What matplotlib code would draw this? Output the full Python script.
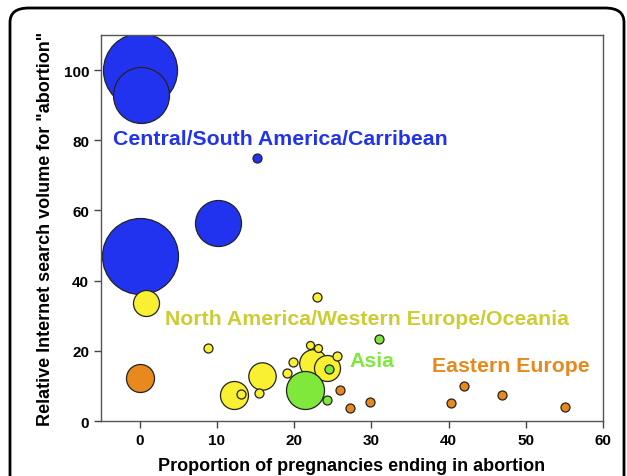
import numpy as np
import matplotlib
matplotlib.use("Agg")
import matplotlib.pyplot as plt
from matplotlib.patches import FancyBboxPatch

plt.rcParams['font.family'] = ['Liberation Sans', 'DejaVu Sans']

# bubble data: x = % pregnancies ending in abortion, y = relative search volume, r = bubble radius
blue_x = [0.0, 0.2, 0.0, 10.1, 15.2]
blue_y = [100, 93, 47, 56.5, 75]
blue_r = [37, 28, 38, 23, 4.5]

yel_x = [0.8, 22.9, 8.8, 12.2, 13.1, 15.8, 15.5, 19.8, 19.1, 22.1, 23.1, 25.5, 22.5, 24.2]
yel_y = [33.5, 35.3, 20.9, 7.4, 7.8, 12.8, 7.9, 16.9, 13.6, 21.7, 20.9, 18.6, 16.5, 15.0]
yel_r = [13, 4.5, 4.5, 14, 4.5, 13.7, 4.5, 4.5, 4.5, 4, 4, 4.5, 13.8, 13]

grn_x = [21.4, 24.5, 24.3, 31.0]
grn_y = [8.7, 14.8, 6.1, 23.3]
grn_r = [19, 4.5, 4.5, 4.5]

org_x = [0.1, 25.9, 27.2, 29.8, 40.3, 42.0, 46.9, 55.1]
org_y = [12.3, 8.8, 3.7, 5.3, 5.1, 10.1, 7.4, 4.0]
org_r = [14, 4.5, 4.5, 4.5, 4.5, 4.5, 4.5, 4.5]

groups = [
    (blue_x, blue_y, blue_r, '#2233f0'),
    (yel_x, yel_y, yel_r, '#f8f030'),
    (grn_x, grn_y, grn_r, '#80e83a'),
    (org_x, org_y, org_r, '#e8891e'),
]

fig = plt.figure(figsize=(6.27, 4.77), dpi=100)
ax = fig.add_axes([0.161, 0.1153, 0.801, 0.8092])

z = 2
for gx, gy, gr, col in groups:
    order = np.argsort(gr)[::-1]
    # keep the first blue pair in its drawn order (second overlaps first)
    for i in order if col != '#2233f0' else range(len(gr)):
        s = (gr[i] * 2 * 0.72) ** 2
        ax.scatter(gx[i], gy[i], s=s, c=col, edgecolors='#222222', linewidths=0.9, zorder=z)
        z += 0.01

ax.set_xlim(-5, 60)
ax.set_ylim(0, 110)
ax.set_xticks([0, 10, 20, 30, 40, 50, 60])
ax.set_yticks([0, 20, 40, 60, 80, 100])
for lab in ax.get_xticklabels() + ax.get_yticklabels():
    lab.set_fontweight('bold')
    lab.set_fontsize(11)
ax.tick_params(direction='out', length=5, width=1, color='#444444')
for sp in ax.spines.values():
    sp.set_color('#555555')
    sp.set_linewidth(1)

ax.set_xlabel('Proportion of pregnancies ending in abortion', fontsize=13, fontweight='bold', labelpad=7)
ax.set_ylabel('Relative Internet search volume for "abortion"', fontsize=13, fontweight='bold', labelpad=7)

ax.text(-3.4, 80.6, 'Central/South America/Carribean', color='#2233f0', fontsize=15.3, fontweight='bold', va='center', zorder=10)
ax.text(3.35, 29.1, 'North America/Western Europe/Oceania', color='#cccc33', fontsize=15.3, fontweight='bold', va='center', zorder=10)
ax.text(27.2, 17.1, 'Asia', color='#80e83a', fontsize=15.3, fontweight='bold', va='center', zorder=10)
ax.text(37.8, 15.7, 'Eastern Europe', color='#e8891e', fontsize=15.3, fontweight='bold', va='center', zorder=10)

frame = FancyBboxPatch((10 / 627, -0.1), 614 / 627, 1.1 - 9 / 477,
                       boxstyle='round,pad=0,rounding_size=0.03',
                       transform=fig.transFigure, fill=False, edgecolor='black',
                       linewidth=2, clip_on=False)
fig.patches.append(frame)

fig.savefig('out.png', dpi=100)
